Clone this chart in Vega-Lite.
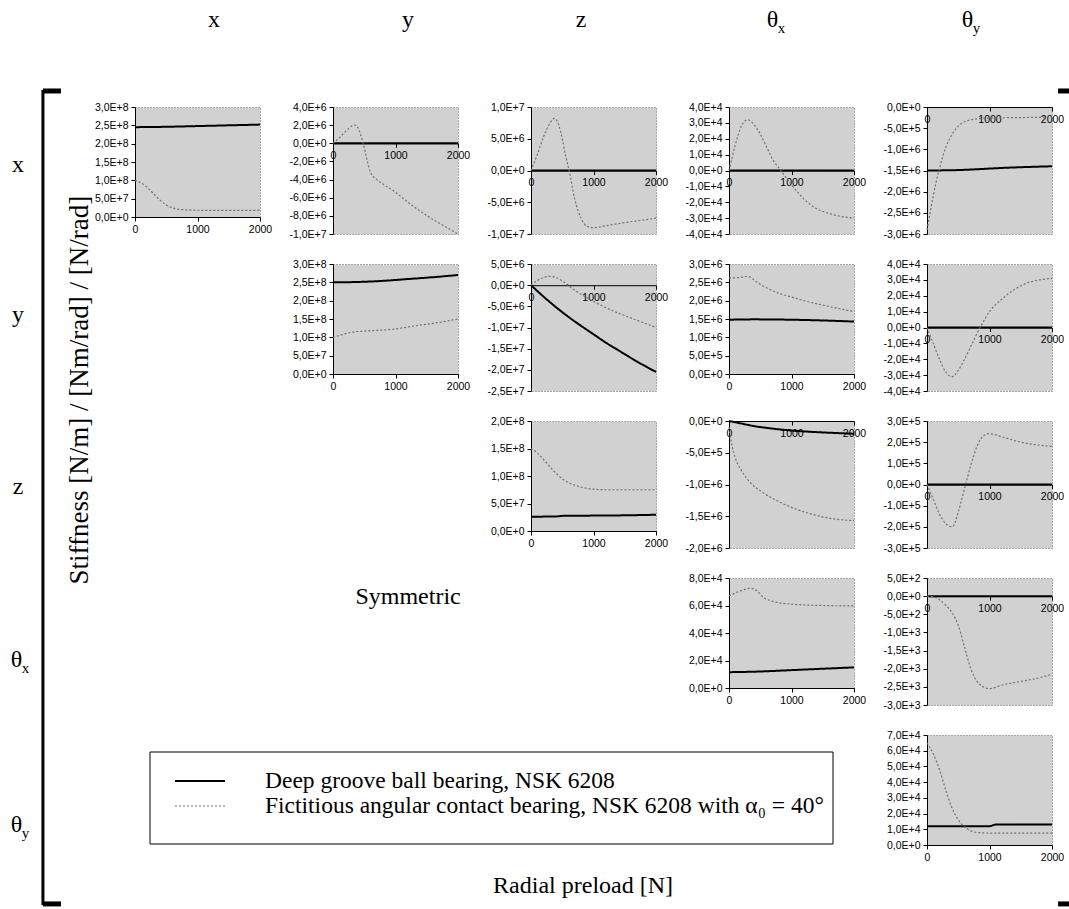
{
"$schema":"https://vega.github.io/schema/vega-lite/v6.json",
"padding":{"left":10,"top":8,"right":0,"bottom":0},
"background":"white",
"columns":5,
"bounds":"flush",
"spacing":{"row":30,"column":73},
"resolve":{"scale":{"color":"shared","strokeDash":"shared","strokeWidth":"shared"}},
"config":{
 "view":{"stroke":null},
 "axis":{"labelFont":"Liberation Sans","labelFontSize":10.5,"labelColor":"#000","domainColor":"#000","tickColor":"#000","tickSize":4,"grid":false,"labelFlush":false,"labelOverlap":false,"domainWidth":1,"labelPadding":3},
 "line":{"interpolate":"monotone"}
},
"datasets":{
 "p11":[{"x":0,"v":2.45e8,"s":"D"},{"x":500,"v":2.46e8,"s":"D"},{"x":1000,"v":2.48e8,"s":"D"},{"x":1500,"v":2.5e8,"s":"D"},{"x":2000,"v":2.52e8,"s":"D"},
  {"x":0,"v":1e8,"s":"F"},{"x":100,"v":9.3e7,"s":"F"},{"x":200,"v":8e7,"s":"F"},{"x":300,"v":6.3e7,"s":"F"},{"x":400,"v":4.6e7,"s":"F"},{"x":500,"v":3.3e7,"s":"F"},{"x":600,"v":2.5e7,"s":"F"},{"x":700,"v":2.1e7,"s":"F"},{"x":900,"v":1.9e7,"s":"F"},{"x":1200,"v":1.8e7,"s":"F"},{"x":1600,"v":1.8e7,"s":"F"},{"x":2000,"v":1.8e7,"s":"F"}],
 "p12":[{"x":0,"v":0,"s":"D"},{"x":2000,"v":0,"s":"D"},
  {"x":0,"v":0,"s":"F"},{"x":100,"v":6e5,"s":"F"},{"x":200,"v":1.3e6,"s":"F"},{"x":300,"v":1.9e6,"s":"F"},{"x":350,"v":2e6,"s":"F"},{"x":400,"v":1.7e6,"s":"F"},{"x":450,"v":8e5,"s":"F"},{"x":500,"v":-5e5,"s":"F"},{"x":550,"v":-2e6,"s":"F"},{"x":600,"v":-3.2e6,"s":"F"},{"x":700,"v":-4e6,"s":"F"},{"x":800,"v":-4.5e6,"s":"F"},{"x":1000,"v":-5.4e6,"s":"F"},{"x":1200,"v":-6.5e6,"s":"F"},{"x":1400,"v":-7.5e6,"s":"F"},{"x":1600,"v":-8.4e6,"s":"F"},{"x":1800,"v":-9.2e6,"s":"F"},{"x":2000,"v":-1e7,"s":"F"}],
 "p13":[{"x":0,"v":0,"s":"D"},{"x":2000,"v":0,"s":"D"},
  {"x":0,"v":0,"s":"F"},{"x":100,"v":2.5e6,"s":"F"},{"x":200,"v":5.3e6,"s":"F"},{"x":300,"v":7.4e6,"s":"F"},{"x":370,"v":8.2e6,"s":"F"},{"x":450,"v":7e6,"s":"F"},{"x":500,"v":5e6,"s":"F"},{"x":550,"v":2.5e6,"s":"F"},{"x":610,"v":0,"s":"F"},{"x":700,"v":-4.5e6,"s":"F"},{"x":800,"v":-7.5e6,"s":"F"},{"x":900,"v":-8.8e6,"s":"F"},{"x":1000,"v":-9e6,"s":"F"},{"x":1200,"v":-8.7e6,"s":"F"},{"x":1500,"v":-8.2e6,"s":"F"},{"x":1800,"v":-7.8e6,"s":"F"},{"x":2000,"v":-7.5e6,"s":"F"}],
 "p14":[{"x":0,"v":0,"s":"D"},{"x":2000,"v":0,"s":"D"},
  {"x":0,"v":0,"s":"F"},{"x":100,"v":1.6e4,"s":"F"},{"x":200,"v":2.8e4,"s":"F"},{"x":300,"v":3.2e4,"s":"F"},{"x":400,"v":2.9e4,"s":"F"},{"x":500,"v":2.3e4,"s":"F"},{"x":600,"v":1.5e4,"s":"F"},{"x":700,"v":7e3,"s":"F"},{"x":830,"v":0,"s":"F"},{"x":1000,"v":-9e3,"s":"F"},{"x":1200,"v":-1.8e4,"s":"F"},{"x":1400,"v":-2.4e4,"s":"F"},{"x":1600,"v":-2.7e4,"s":"F"},{"x":1800,"v":-2.9e4,"s":"F"},{"x":2000,"v":-3e4,"s":"F"}],
 "p15":[{"x":0,"v":-1.5e6,"s":"D"},{"x":500,"v":-1.49e6,"s":"D"},{"x":800,"v":-1.47e6,"s":"D"},{"x":1200,"v":-1.44e6,"s":"D"},{"x":2000,"v":-1.4e6,"s":"D"},
  {"x":0,"v":-2.9e6,"s":"F"},{"x":50,"v":-2.5e6,"s":"F"},{"x":100,"v":-2.1e6,"s":"F"},{"x":150,"v":-1.75e6,"s":"F"},{"x":200,"v":-1.45e6,"s":"F"},{"x":300,"v":-9.5e5,"s":"F"},{"x":400,"v":-6.5e5,"s":"F"},{"x":500,"v":-4.5e5,"s":"F"},{"x":600,"v":-3.5e5,"s":"F"},{"x":800,"v":-2.8e5,"s":"F"},{"x":1000,"v":-2.6e5,"s":"F"},{"x":1500,"v":-2.5e5,"s":"F"},{"x":2000,"v":-2.4e5,"s":"F"}],
 "p22":[{"x":0,"v":2.5e8,"s":"D"},{"x":400,"v":2.51e8,"s":"D"},{"x":800,"v":2.54e8,"s":"D"},{"x":1200,"v":2.59e8,"s":"D"},{"x":1600,"v":2.64e8,"s":"D"},{"x":2000,"v":2.7e8,"s":"D"},
  {"x":0,"v":1e8,"s":"F"},{"x":100,"v":1.05e8,"s":"F"},{"x":200,"v":1.1e8,"s":"F"},{"x":300,"v":1.14e8,"s":"F"},{"x":500,"v":1.17e8,"s":"F"},{"x":800,"v":1.2e8,"s":"F"},{"x":1000,"v":1.23e8,"s":"F"},{"x":1300,"v":1.31e8,"s":"F"},{"x":1600,"v":1.38e8,"s":"F"},{"x":2000,"v":1.5e8,"s":"F"}],
 "p23":[{"x":0,"v":0,"s":"D"},{"x":200,"v":-2.7e6,"s":"D"},{"x":400,"v":-5.2e6,"s":"D"},{"x":600,"v":-7.5e6,"s":"D"},{"x":800,"v":-9.6e6,"s":"D"},{"x":1000,"v":-1.16e7,"s":"D"},{"x":1200,"v":-1.36e7,"s":"D"},{"x":1400,"v":-1.54e7,"s":"D"},{"x":1600,"v":-1.72e7,"s":"D"},{"x":1800,"v":-1.89e7,"s":"D"},{"x":2000,"v":-2.05e7,"s":"D"},
  {"x":0,"v":0,"s":"F"},{"x":150,"v":1.5e6,"s":"F"},{"x":300,"v":2.1e6,"s":"F"},{"x":400,"v":1.8e6,"s":"F"},{"x":500,"v":1e6,"s":"F"},{"x":700,"v":-1.2e6,"s":"F"},{"x":900,"v":-3e6,"s":"F"},{"x":1100,"v":-4.6e6,"s":"F"},{"x":1300,"v":-6e6,"s":"F"},{"x":1500,"v":-7.2e6,"s":"F"},{"x":1700,"v":-8.3e6,"s":"F"},{"x":2000,"v":-1e7,"s":"F"}],
 "p24":[{"x":0,"v":1.48e6,"s":"D"},{"x":400,"v":1.49e6,"s":"D"},{"x":1000,"v":1.48e6,"s":"D"},{"x":1500,"v":1.46e6,"s":"D"},{"x":2000,"v":1.43e6,"s":"D"},
  {"x":0,"v":2.62e6,"s":"F"},{"x":150,"v":2.63e6,"s":"F"},{"x":300,"v":2.66e6,"s":"F"},{"x":450,"v":2.5e6,"s":"F"},{"x":600,"v":2.35e6,"s":"F"},{"x":800,"v":2.2e6,"s":"F"},{"x":1000,"v":2.1e6,"s":"F"},{"x":1200,"v":2e6,"s":"F"},{"x":1500,"v":1.88e6,"s":"F"},{"x":1800,"v":1.77e6,"s":"F"},{"x":2000,"v":1.7e6,"s":"F"}],
 "p25":[{"x":0,"v":0,"s":"D"},{"x":2000,"v":0,"s":"D"},
  {"x":0,"v":0,"s":"F"},{"x":100,"v":-1e4,"s":"F"},{"x":200,"v":-2e4,"s":"F"},{"x":300,"v":-2.8e4,"s":"F"},{"x":400,"v":-3.1e4,"s":"F"},{"x":500,"v":-2.7e4,"s":"F"},{"x":600,"v":-2e4,"s":"F"},{"x":700,"v":-1.2e4,"s":"F"},{"x":850,"v":0,"s":"F"},{"x":1000,"v":1e4,"s":"F"},{"x":1200,"v":1.8e4,"s":"F"},{"x":1400,"v":2.4e4,"s":"F"},{"x":1600,"v":2.8e4,"s":"F"},{"x":1800,"v":3e4,"s":"F"},{"x":2000,"v":3.1e4,"s":"F"}],
 "p33":[{"x":0,"v":2.6e7,"s":"D"},{"x":400,"v":2.65e7,"s":"D"},{"x":500,"v":2.75e7,"s":"D"},{"x":1000,"v":2.8e7,"s":"D"},{"x":1500,"v":2.85e7,"s":"D"},{"x":2000,"v":2.95e7,"s":"D"},
  {"x":0,"v":1.5e8,"s":"F"},{"x":100,"v":1.42e8,"s":"F"},{"x":200,"v":1.3e8,"s":"F"},{"x":300,"v":1.17e8,"s":"F"},{"x":400,"v":1.05e8,"s":"F"},{"x":500,"v":9.5e7,"s":"F"},{"x":600,"v":8.8e7,"s":"F"},{"x":800,"v":8e7,"s":"F"},{"x":1000,"v":7.6e7,"s":"F"},{"x":1200,"v":7.5e7,"s":"F"},{"x":2000,"v":7.5e7,"s":"F"}],
 "p34":[{"x":0,"v":0,"s":"D"},{"x":200,"v":-4e4,"s":"D"},{"x":400,"v":-8e4,"s":"D"},{"x":700,"v":-1.2e5,"s":"D"},{"x":1000,"v":-1.5e5,"s":"D"},{"x":1500,"v":-1.8e5,"s":"D"},{"x":2000,"v":-2e5,"s":"D"},
  {"x":0,"v":-1e5,"s":"F"},{"x":50,"v":-4e5,"s":"F"},{"x":100,"v":-5.8e5,"s":"F"},{"x":200,"v":-7.8e5,"s":"F"},{"x":350,"v":-9.8e5,"s":"F"},{"x":500,"v":-1.1e6,"s":"F"},{"x":700,"v":-1.22e6,"s":"F"},{"x":1000,"v":-1.36e6,"s":"F"},{"x":1300,"v":-1.46e6,"s":"F"},{"x":1600,"v":-1.53e6,"s":"F"},{"x":2000,"v":-1.57e6,"s":"F"}],
 "p35":[{"x":0,"v":0,"s":"D"},{"x":2000,"v":0,"s":"D"},
  {"x":0,"v":0,"s":"F"},{"x":100,"v":-7e4,"s":"F"},{"x":200,"v":-1.4e5,"s":"F"},{"x":300,"v":-1.85e5,"s":"F"},{"x":400,"v":-2e5,"s":"F"},{"x":450,"v":-1.8e5,"s":"F"},{"x":500,"v":-1.3e5,"s":"F"},{"x":600,"v":-2e4,"s":"F"},{"x":700,"v":9e4,"s":"F"},{"x":800,"v":1.8e5,"s":"F"},{"x":900,"v":2.3e5,"s":"F"},{"x":1000,"v":2.4e5,"s":"F"},{"x":1200,"v":2.25e5,"s":"F"},{"x":1500,"v":2e5,"s":"F"},{"x":2000,"v":1.8e5,"s":"F"}],
 "p44":[{"x":0,"v":1.15e4,"s":"D"},{"x":500,"v":1.2e4,"s":"D"},{"x":1000,"v":1.3e4,"s":"D"},{"x":1500,"v":1.4e4,"s":"D"},{"x":2000,"v":1.5e4,"s":"D"},
  {"x":0,"v":6.7e4,"s":"F"},{"x":150,"v":7e4,"s":"F"},{"x":350,"v":7.25e4,"s":"F"},{"x":450,"v":7.05e4,"s":"F"},{"x":550,"v":6.6e4,"s":"F"},{"x":700,"v":6.3e4,"s":"F"},{"x":1000,"v":6.1e4,"s":"F"},{"x":1500,"v":6e4,"s":"F"},{"x":2000,"v":5.97e4,"s":"F"}],
 "p45":[{"x":0,"v":0,"s":"D"},{"x":2000,"v":0,"s":"D"},
  {"x":0,"v":0,"s":"F"},{"x":100,"v":-20,"s":"F"},{"x":200,"v":-100,"s":"F"},{"x":300,"v":-250,"s":"F"},{"x":400,"v":-450,"s":"F"},{"x":500,"v":-800,"s":"F"},{"x":600,"v":-1400,"s":"F"},{"x":700,"v":-2000,"s":"F"},{"x":800,"v":-2350,"s":"F"},{"x":900,"v":-2500,"s":"F"},{"x":1000,"v":-2550,"s":"F"},{"x":1200,"v":-2450,"s":"F"},{"x":1500,"v":-2350,"s":"F"},{"x":1800,"v":-2250,"s":"F"},{"x":2000,"v":-2150,"s":"F"}],
 "p55":[{"x":0,"v":1.2e4,"s":"D"},{"x":1000,"v":1.2e4,"s":"D"},{"x":1100,"v":1.3e4,"s":"D"},{"x":2000,"v":1.3e4,"s":"D"},
  {"x":0,"v":6.5e4,"s":"F"},{"x":100,"v":5.8e4,"s":"F"},{"x":200,"v":4.8e4,"s":"F"},{"x":300,"v":3.5e4,"s":"F"},{"x":400,"v":2.35e4,"s":"F"},{"x":500,"v":1.6e4,"s":"F"},{"x":600,"v":1.15e4,"s":"F"},{"x":700,"v":9e3,"s":"F"},{"x":800,"v":8e3,"s":"F"},{"x":1000,"v":7.6e3,"s":"F"},{"x":1500,"v":7.5e3,"s":"F"},{"x":2000,"v":7.5e3,"s":"F"}],
 "fl":[{"t":"x","cx":1.399,"ry":0.446},{"t":"y","cx":2.379,"ry":0.446},{"t":"z","cx":3.253,"ry":0.446},{"t":"θ","cx":4.22,"ry":0.446},{"t":"θ","cx":5.205,"ry":0.446},
  {"t":"x","cx":0.409,"ry":1.369},{"t":"y","cx":0.409,"ry":2.325},{"t":"z","cx":0.409,"ry":3.42},{"t":"θ","cx":0.402,"ry":4.522},{"t":"θ","cx":0.402,"ry":5.573},
  {"t":"Symmetric","cx":2.379,"ry":4.121},{"t":"Radial preload [N]","cx":3.263,"ry":5.962}],
 "fs":[{"t":"x","cx":4.22,"ry":0.446},{"t":"y","cx":5.205,"ry":0.446},{"t":"x","cx":0.402,"ry":4.522},{"t":"y","cx":0.402,"ry":5.573}],
 "ft":[{"t":"Stiffness [N/m] / [Nm/rad] / [N/rad]","cx":0.722,"ry":2.803}],
 "fb":[{"cx":0.535,"cx2":0.535,"ry":0.892,"ry2":6.083}],
 "fk":[{"cx":0.535,"cx2":0.626,"ry":0.898,"ry2":0.898},{"cx":0.535,"cx2":0.626,"ry":6.076,"ry2":6.076},{"cx":5.662,"cx2":5.74,"ry":0.898,"ry2":0.898},{"cx":5.662,"cx2":5.74,"ry":6.076,"ry2":6.076}],
 "lb":[{"cx":1.0758,"cx2":4.5253,"ry":5.1083,"ry2":5.6943}],
 "ll":[{"s":"D","cx":1.202,"cx2":1.4545,"ry":5.293},{"s":"F","cx":1.202,"cx2":1.4545,"ry":5.4522}],
 "lt":[{"t":"Deep groove ball bearing, NSK 6208","cx":1.6566,"ry":5.293},{"t":"Fictitious angular contact bearing, NSK 6208 with α₀ = 40°","cx":1.6566,"ry":5.4522}]
},
"concat":[
 {"width":125,"height":110,"data":{"name":"p11"},"view":{"fill":"#d1d1d1","stroke":"#666","strokeDash":[1,2]},"mark":"line",
  "encoding":{"x":{"field":"x","type":"quantitative","title":null,"scale":{"domain":[0,2000],"nice":false},"axis":{"values":[0,1000,2000],"format":"d"}},
   "y":{"field":"v","type":"quantitative","title":null,"scale":{"domain":[0,3e8],"nice":false,"zero":false},"axis":{"values":[0,5e7,1e8,1.5e8,2e8,2.5e8,3e8],"labelExpr":"replace(replace(replace(format(datum.value,'.1e'),'.',','),'e','E'),'\u2212','-')"}},
   "color":{"field":"s","type":"nominal","scale":{"domain":["D","F"],"range":["#000000","#707070"]},"legend":null},
   "strokeDash":{"field":"s","type":"nominal","scale":{"domain":["D","F"],"range":[[1,0],[2,2]]},"legend":null},
   "strokeWidth":{"field":"s","type":"nominal","scale":{"domain":["D","F"],"range":[2,1.2]},"legend":null}}},
 {"width":125,"height":127,"data":{"name":"p12"},"view":{"fill":"#d1d1d1","stroke":"#666","strokeDash":[1,2]},"mark":"line",
  "encoding":{"x":{"field":"x","type":"quantitative","title":null,"scale":{"domain":[0,2000],"nice":false},"axis":{"values":[0,1000,2000],"format":"d","offset":-90.7}},
   "y":{"field":"v","type":"quantitative","title":null,"scale":{"domain":[-1e7,4e6],"nice":false,"zero":false},"axis":{"values":[-1e7,-8e6,-6e6,-4e6,-2e6,0,2e6,4e6],"labelExpr":"replace(replace(replace(format(datum.value,'.1e'),'.',','),'e','E'),'\u2212','-')"}},
   "color":{"field":"s","type":"nominal","legend":null},"strokeDash":{"field":"s","type":"nominal","legend":null},"strokeWidth":{"field":"s","type":"nominal","legend":null}}},
 {"width":125,"height":127,"data":{"name":"p13"},"view":{"fill":"#d1d1d1","stroke":"#666","strokeDash":[1,2]},"mark":"line",
  "encoding":{"x":{"field":"x","type":"quantitative","title":null,"scale":{"domain":[0,2000],"nice":false},"axis":{"values":[0,1000,2000],"format":"d","offset":-63.5}},
   "y":{"field":"v","type":"quantitative","title":null,"scale":{"domain":[-1e7,1e7],"nice":false,"zero":false},"axis":{"values":[-1e7,-5e6,0,5e6,1e7],"labelExpr":"replace(replace(replace(format(datum.value,'.1e'),'.',','),'e','E'),'\u2212','-')"}},
   "color":{"field":"s","type":"nominal","legend":null},"strokeDash":{"field":"s","type":"nominal","legend":null},"strokeWidth":{"field":"s","type":"nominal","legend":null}}},
 {"width":125,"height":127,"data":{"name":"p14"},"view":{"fill":"#d1d1d1","stroke":"#666","strokeDash":[1,2]},"mark":"line",
  "encoding":{"x":{"field":"x","type":"quantitative","title":null,"scale":{"domain":[0,2000],"nice":false},"axis":{"values":[0,1000,2000],"format":"d","offset":-63.5}},
   "y":{"field":"v","type":"quantitative","title":null,"scale":{"domain":[-4e4,4e4],"nice":false,"zero":false},"axis":{"values":[-4e4,-3e4,-2e4,-1e4,0,1e4,2e4,3e4,4e4],"labelExpr":"replace(replace(replace(format(datum.value,'.1e'),'.',','),'e','E'),'\u2212','-')"}},
   "color":{"field":"s","type":"nominal","legend":null},"strokeDash":{"field":"s","type":"nominal","legend":null},"strokeWidth":{"field":"s","type":"nominal","legend":null}}},
 {"width":125,"height":127,"data":{"name":"p15"},"view":{"fill":"#d1d1d1","stroke":"#666","strokeDash":[1,2]},"mark":"line",
  "encoding":{"x":{"field":"x","type":"quantitative","title":null,"scale":{"domain":[0,2000],"nice":false},"axis":{"values":[0,1000,2000],"format":"d","offset":-127}},
   "y":{"field":"v","type":"quantitative","title":null,"scale":{"domain":[-3e6,0],"nice":false,"zero":false},"axis":{"values":[-3e6,-2.5e6,-2e6,-1.5e6,-1e6,-5e5,0],"labelExpr":"replace(replace(replace(format(datum.value,'.1e'),'.',','),'e','E'),'\u2212','-')"}},
   "color":{"field":"s","type":"nominal","legend":null},"strokeDash":{"field":"s","type":"nominal","legend":null},"strokeWidth":{"field":"s","type":"nominal","legend":null}}},
 {"width":125,"height":127,
  "layer":[
   {"data":{"name":"fb"},"mark":{"type":"rule","color":"#000","strokeWidth":3},
    "encoding":{"x":{"field":"cx","type":"quantitative","scale":{"domain":[1,1.631313],"nice":false,"zero":false},"axis":null},"x2":{"field":"cx2"},"y":{"field":"ry","type":"quantitative","scale":{"domain":[2,2.808917],"nice":false,"zero":false,"reverse":true},"axis":null},"y2":{"field":"ry2"}}},
   {"data":{"name":"fk"},"mark":{"type":"rule","color":"#000","strokeWidth":5},
    "encoding":{"x":{"field":"cx","type":"quantitative","scale":{"domain":[1,1.631313],"nice":false,"zero":false},"axis":null},"x2":{"field":"cx2"},"y":{"field":"ry","type":"quantitative","scale":{"domain":[2,2.808917],"nice":false,"zero":false,"reverse":true},"axis":null},"y2":{"field":"ry2"}}},
   {"data":{"name":"lb"},"mark":{"type":"rect","fill":"#fff","stroke":"#000","strokeWidth":1},
    "encoding":{"x":{"field":"cx","type":"quantitative","scale":{"domain":[1,1.631313],"nice":false,"zero":false},"axis":null},"x2":{"field":"cx2"},"y":{"field":"ry","type":"quantitative","scale":{"domain":[2,2.808917],"nice":false,"zero":false,"reverse":true},"axis":null},"y2":{"field":"ry2"}}},
   {"data":{"name":"ll"},"mark":{"type":"rule"},
    "encoding":{"x":{"field":"cx","type":"quantitative","scale":{"domain":[1,1.631313],"nice":false,"zero":false},"axis":null},"x2":{"field":"cx2"},"y":{"field":"ry","type":"quantitative","scale":{"domain":[2,2.808917],"nice":false,"zero":false,"reverse":true},"axis":null},
     "color":{"field":"s","type":"nominal","legend":null},"strokeDash":{"field":"s","type":"nominal","legend":null},"strokeWidth":{"field":"s","type":"nominal","legend":null}}},
   {"data":{"name":"lt"},"mark":{"type":"text","font":"Liberation Serif","fontSize":23.5,"color":"#000","align":"left","baseline":"middle"},
    "encoding":{"x":{"field":"cx","type":"quantitative","scale":{"domain":[1,1.631313],"nice":false,"zero":false},"axis":null},"y":{"field":"ry","type":"quantitative","scale":{"domain":[2,2.808917],"nice":false,"zero":false,"reverse":true},"axis":null},"text":{"field":"t"}}},
   {"data":{"name":"fl"},"mark":{"type":"text","font":"Liberation Serif","fontSize":24,"color":"#000","align":"center","baseline":"middle"},
    "encoding":{"x":{"field":"cx","type":"quantitative","scale":{"domain":[1,1.631313],"nice":false,"zero":false},"axis":null},"y":{"field":"ry","type":"quantitative","scale":{"domain":[2,2.808917],"nice":false,"zero":false,"reverse":true},"axis":null},"text":{"field":"t"}}},
   {"data":{"name":"fs"},"mark":{"type":"text","font":"Liberation Serif","fontSize":15,"color":"#000","align":"center","baseline":"middle","dx":9,"dy":8},
    "encoding":{"x":{"field":"cx","type":"quantitative","scale":{"domain":[1,1.631313],"nice":false,"zero":false},"axis":null},"y":{"field":"ry","type":"quantitative","scale":{"domain":[2,2.808917],"nice":false,"zero":false,"reverse":true},"axis":null},"text":{"field":"t"}}},
   {"data":{"name":"ft"},"mark":{"type":"text","font":"Liberation Serif","fontSize":27,"color":"#000","align":"center","baseline":"middle","angle":270},
    "encoding":{"x":{"field":"cx","type":"quantitative","scale":{"domain":[1,1.631313],"nice":false,"zero":false},"axis":null},"y":{"field":"ry","type":"quantitative","scale":{"domain":[2,2.808917],"nice":false,"zero":false,"reverse":true},"axis":null},"text":{"field":"t"}}}
  ]},
 {"width":125,"height":110,"data":{"name":"p22"},"view":{"fill":"#d1d1d1","stroke":"#666","strokeDash":[1,2]},"mark":"line",
  "encoding":{"x":{"field":"x","type":"quantitative","title":null,"scale":{"domain":[0,2000],"nice":false},"axis":{"values":[0,1000,2000],"format":"d"}},
   "y":{"field":"v","type":"quantitative","title":null,"scale":{"domain":[0,3e8],"nice":false,"zero":false},"axis":{"values":[0,5e7,1e8,1.5e8,2e8,2.5e8,3e8],"labelExpr":"replace(replace(replace(format(datum.value,'.1e'),'.',','),'e','E'),'\u2212','-')"}},
   "color":{"field":"s","type":"nominal","legend":null},"strokeDash":{"field":"s","type":"nominal","legend":null},"strokeWidth":{"field":"s","type":"nominal","legend":null}}},
 {"width":125,"height":127,"data":{"name":"p23"},"view":{"fill":"#d1d1d1","stroke":"#666","strokeDash":[1,2]},"mark":"line",
  "encoding":{"x":{"field":"x","type":"quantitative","title":null,"scale":{"domain":[0,2000],"nice":false},"axis":{"values":[0,1000,2000],"format":"d","offset":-105.8}},
   "y":{"field":"v","type":"quantitative","title":null,"scale":{"domain":[-2.5e7,5e6],"nice":false,"zero":false},"axis":{"values":[-2.5e7,-2e7,-1.5e7,-1e7,-5e6,0,5e6],"labelExpr":"replace(replace(replace(format(datum.value,'.1e'),'.',','),'e','E'),'\u2212','-')"}},
   "color":{"field":"s","type":"nominal","legend":null},"strokeDash":{"field":"s","type":"nominal","legend":null},"strokeWidth":{"field":"s","type":"nominal","legend":null}}},
 {"width":125,"height":110,"data":{"name":"p24"},"view":{"fill":"#d1d1d1","stroke":"#666","strokeDash":[1,2]},"mark":"line",
  "encoding":{"x":{"field":"x","type":"quantitative","title":null,"scale":{"domain":[0,2000],"nice":false},"axis":{"values":[0,1000,2000],"format":"d"}},
   "y":{"field":"v","type":"quantitative","title":null,"scale":{"domain":[0,3e6],"nice":false,"zero":false},"axis":{"values":[0,5e5,1e6,1.5e6,2e6,2.5e6,3e6],"labelExpr":"replace(replace(replace(format(datum.value,'.1e'),'.',','),'e','E'),'\u2212','-')"}},
   "color":{"field":"s","type":"nominal","legend":null},"strokeDash":{"field":"s","type":"nominal","legend":null},"strokeWidth":{"field":"s","type":"nominal","legend":null}}},
 {"width":125,"height":127,"data":{"name":"p25"},"view":{"fill":"#d1d1d1","stroke":"#666","strokeDash":[1,2]},"mark":"line",
  "encoding":{"x":{"field":"x","type":"quantitative","title":null,"scale":{"domain":[0,2000],"nice":false},"axis":{"values":[0,1000,2000],"format":"d","offset":-63.5}},
   "y":{"field":"v","type":"quantitative","title":null,"scale":{"domain":[-4e4,4e4],"nice":false,"zero":false},"axis":{"values":[-4e4,-3e4,-2e4,-1e4,0,1e4,2e4,3e4,4e4],"labelExpr":"replace(replace(replace(format(datum.value,'.1e'),'.',','),'e','E'),'\u2212','-')"}},
   "color":{"field":"s","type":"nominal","legend":null},"strokeDash":{"field":"s","type":"nominal","legend":null},"strokeWidth":{"field":"s","type":"nominal","legend":null}}},
 {"width":125,"height":127,"data":{"values":[]},"mark":"point"},
 {"width":125,"height":127,"data":{"values":[]},"mark":"point"},
 {"width":125,"height":110,"data":{"name":"p33"},"view":{"fill":"#d1d1d1","stroke":"#666","strokeDash":[1,2]},"mark":"line",
  "encoding":{"x":{"field":"x","type":"quantitative","title":null,"scale":{"domain":[0,2000],"nice":false},"axis":{"values":[0,1000,2000],"format":"d"}},
   "y":{"field":"v","type":"quantitative","title":null,"scale":{"domain":[0,2e8],"nice":false,"zero":false},"axis":{"values":[0,5e7,1e8,1.5e8,2e8],"labelExpr":"replace(replace(replace(format(datum.value,'.1e'),'.',','),'e','E'),'\u2212','-')"}},
   "color":{"field":"s","type":"nominal","legend":null},"strokeDash":{"field":"s","type":"nominal","legend":null},"strokeWidth":{"field":"s","type":"nominal","legend":null}}},
 {"width":125,"height":127,"data":{"name":"p34"},"view":{"fill":"#d1d1d1","stroke":"#666","strokeDash":[1,2]},"mark":"line",
  "encoding":{"x":{"field":"x","type":"quantitative","title":null,"scale":{"domain":[0,2000],"nice":false},"axis":{"values":[0,1000,2000],"format":"d","offset":-127}},
   "y":{"field":"v","type":"quantitative","title":null,"scale":{"domain":[-2e6,0],"nice":false,"zero":false},"axis":{"values":[-2e6,-1.5e6,-1e6,-5e5,0],"labelExpr":"replace(replace(replace(format(datum.value,'.1e'),'.',','),'e','E'),'\u2212','-')"}},
   "color":{"field":"s","type":"nominal","legend":null},"strokeDash":{"field":"s","type":"nominal","legend":null},"strokeWidth":{"field":"s","type":"nominal","legend":null}}},
 {"width":125,"height":127,"data":{"name":"p35"},"view":{"fill":"#d1d1d1","stroke":"#666","strokeDash":[1,2]},"mark":"line",
  "encoding":{"x":{"field":"x","type":"quantitative","title":null,"scale":{"domain":[0,2000],"nice":false},"axis":{"values":[0,1000,2000],"format":"d","offset":-63.5}},
   "y":{"field":"v","type":"quantitative","title":null,"scale":{"domain":[-3e5,3e5],"nice":false,"zero":false},"axis":{"values":[-3e5,-2e5,-1e5,0,1e5,2e5,3e5],"labelExpr":"replace(replace(replace(format(datum.value,'.1e'),'.',','),'e','E'),'\u2212','-')"}},
   "color":{"field":"s","type":"nominal","legend":null},"strokeDash":{"field":"s","type":"nominal","legend":null},"strokeWidth":{"field":"s","type":"nominal","legend":null}}},
 {"width":125,"height":127,"data":{"values":[]},"mark":"point"},
 {"width":125,"height":127,"data":{"values":[]},"mark":"point"},
 {"width":125,"height":127,"data":{"values":[]},"mark":"point"},
 {"width":125,"height":110,"data":{"name":"p44"},"view":{"fill":"#d1d1d1","stroke":"#666","strokeDash":[1,2]},"mark":"line",
  "encoding":{"x":{"field":"x","type":"quantitative","title":null,"scale":{"domain":[0,2000],"nice":false},"axis":{"values":[0,1000,2000],"format":"d"}},
   "y":{"field":"v","type":"quantitative","title":null,"scale":{"domain":[0,8e4],"nice":false,"zero":false},"axis":{"values":[0,2e4,4e4,6e4,8e4],"labelExpr":"replace(replace(replace(format(datum.value,'.1e'),'.',','),'e','E'),'\u2212','-')"}},
   "color":{"field":"s","type":"nominal","legend":null},"strokeDash":{"field":"s","type":"nominal","legend":null},"strokeWidth":{"field":"s","type":"nominal","legend":null}}},
 {"width":125,"height":127,"data":{"name":"p45"},"view":{"fill":"#d1d1d1","stroke":"#666","strokeDash":[1,2]},"mark":"line",
  "encoding":{"x":{"field":"x","type":"quantitative","title":null,"scale":{"domain":[0,2000],"nice":false},"axis":{"values":[0,1000,2000],"format":"d","offset":-108.9}},
   "y":{"field":"v","type":"quantitative","title":null,"scale":{"domain":[-3000,500],"nice":false,"zero":false},"axis":{"values":[-3000,-2500,-2000,-1500,-1000,-500,0,500],"labelExpr":"replace(replace(replace(format(datum.value,'.1e'),'.',','),'e','E'),'\u2212','-')"}},
   "color":{"field":"s","type":"nominal","legend":null},"strokeDash":{"field":"s","type":"nominal","legend":null},"strokeWidth":{"field":"s","type":"nominal","legend":null}}},
 {"width":125,"height":110,"data":{"values":[]},"mark":"point"},
 {"width":125,"height":110,"data":{"values":[]},"mark":"point"},
 {"width":125,"height":110,"data":{"values":[]},"mark":"point"},
 {"width":125,"height":110,"data":{"values":[]},"mark":"point"},
 {"width":125,"height":110,"data":{"name":"p55"},"view":{"fill":"#d1d1d1","stroke":"#666","strokeDash":[1,2]},"mark":"line",
  "encoding":{"x":{"field":"x","type":"quantitative","title":null,"scale":{"domain":[0,2000],"nice":false},"axis":{"values":[0,1000,2000],"format":"d"}},
   "y":{"field":"v","type":"quantitative","title":null,"scale":{"domain":[0,7e4],"nice":false,"zero":false},"axis":{"values":[0,1e4,2e4,3e4,4e4,5e4,6e4,7e4],"labelExpr":"replace(replace(replace(format(datum.value,'.1e'),'.',','),'e','E'),'\u2212','-')"}},
   "color":{"field":"s","type":"nominal","legend":null},"strokeDash":{"field":"s","type":"nominal","legend":null},"strokeWidth":{"field":"s","type":"nominal","legend":null}}}
]
}
